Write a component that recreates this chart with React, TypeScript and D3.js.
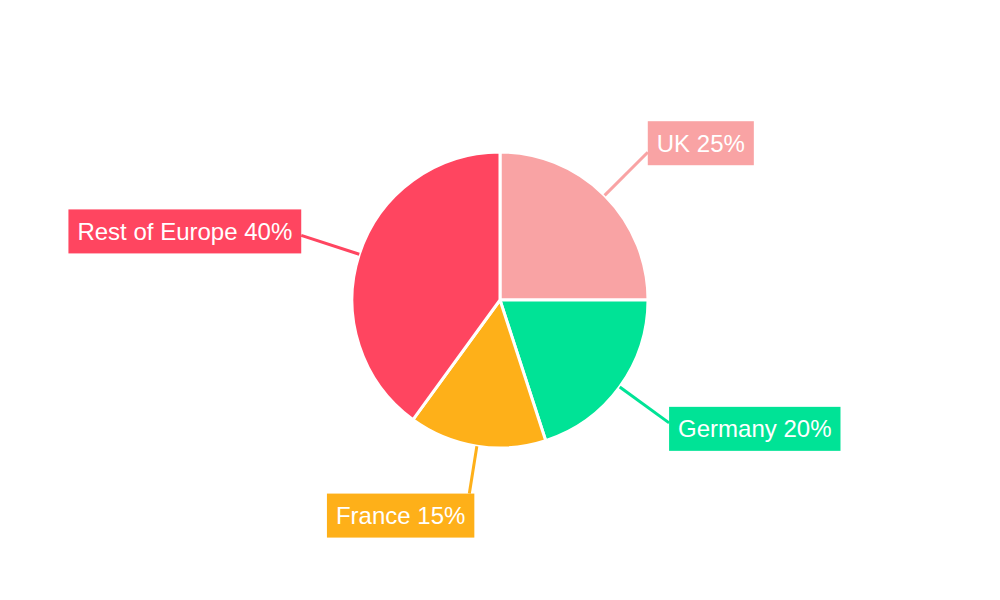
import { useEffect, useRef } from 'react';
import * as d3 from 'd3';

const CATEGORIES = ['UK', 'Germany', 'France', 'Rest of Europe'];
const VALUES = [25, 20, 15, 40];
const COLORS = ['#F9A3A4', '#00E396', '#FEB019', '#FF4560'];

export default function App() {
  const svgRef = useRef<SVGSVGElement>(null);

  useEffect(() => {
    const svgEl = svgRef.current;
    if (!svgEl) return;
    const width = 1000;
    const height = 600;
    const cx = 500, cy = 300, r = 148;
    const labelR = 209;
    const fontSize = 24;
    const padX = 9, boxH = 44;

    const svg = d3.select(svgEl);
    svg.selectAll('*').remove();

    const total = d3.sum(VALUES);
    const pie = d3.pie<number>().sort(null).value((d) => d);
    const arcs = pie(VALUES);
    const arc = d3.arc<d3.PieArcDatum<number>>().innerRadius(0).outerRadius(r);

    const root = svg.append('g').attr('transform', `translate(${cx},${cy})`);

    // Slices
    root.selectAll('path.slice').data(arcs).join('path')
      .attr('class', 'slice')
      .attr('d', arc)
      .attr('fill', (_, i) => COLORS[i])
      .attr('stroke', '#fff').attr('stroke-width', 3).attr('stroke-linejoin', 'round');

    // Labels with leader lines
    arcs.forEach((a, i) => {
      const mid = (a.startAngle + a.endAngle) / 2;
      const sx = Math.sin(mid), sy = -Math.cos(mid);
      const text = `${CATEGORIES[i]} ${Math.round((VALUES[i] / total) * 100)}%`;

      const g = root.append('g');
      const t = g.append('text')
        .attr('font-family', '"Liberation Sans", Arial, sans-serif')
        .attr('font-size', fontSize).attr('fill', '#fff')
        .text(text);
      const tw = (t.node() as SVGTextElement).getComputedTextLength();
      const bw = tw + padX * 2;

      let ex: number, ey: number, bx: number, by: number;
      if (Math.abs(sx) > 0.4) {
        ex = sx * labelR; ey = sy * labelR;
        bx = sx > 0 ? ex : ex - bw;
        by = ey - boxH / 2 - (sy < 0 ? 9 : -6);
        if (sy < 0 && sx < 0) by = ey - boxH / 2 - 4;
      } else {
        const rr = 196;
        ex = sx * rr; ey = sy * rr;
        bx = ex + 5 - bw;
        by = sy > 0 ? ey : ey - boxH;
      }

      g.insert('line', 'text')
        .attr('x1', sx * r).attr('y1', sy * r)
        .attr('x2', ex).attr('y2', ey)
        .attr('stroke', COLORS[i]).attr('stroke-width', 3);
      g.insert('rect', 'text')
        .attr('x', bx).attr('y', by).attr('width', bw).attr('height', boxH)
        .attr('fill', COLORS[i]);
      t.attr('x', bx + padX).attr('y', by + boxH / 2 + 8.5);
    });

    svg.attr('viewBox', `0 0 ${width} ${height}`);
  }, []);

  return (
    <div style={{ position: 'absolute', left: 0, top: 0, width: 1000, height: 600, background: '#fff' }}>
      <svg ref={svgRef} width={1000} height={600} role="img" aria-label="Europe share pie chart" />
    </div>
  );
}
